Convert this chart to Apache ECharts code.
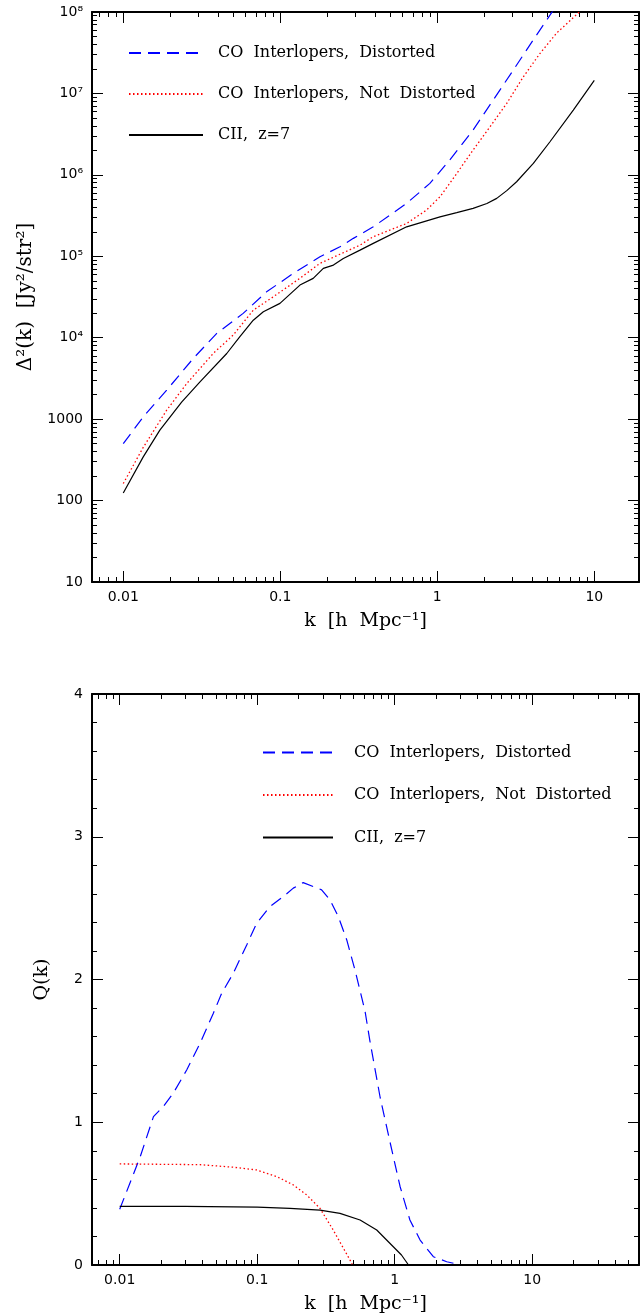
<!DOCTYPE html>
<html>
<head>
<meta charset="utf-8">
<script src="https://cdn.jsdelivr.net/npm/echarts@6/dist/echarts.min.js"></script>
<style>
html,body{margin:0;padding:0;background:#fff;}
#chart{width:640px;height:1316px;}
</style>
</head>
<body>
<div id="chart"></div>
<script>
// ---------- DATA ----------
const seriesNames = ['CO  Interlopers,  Distorted', 'CO  Interlopers,  Not  Distorted', 'CII,  z=7'];

// Top panel: Delta^2(k) [Jy^2/str^2]
const distK   = [0.01, 0.0134, 0.0189, 0.0279, 0.0394, 0.058, 0.0818, 0.121, 0.179, 0.24, 0.292, 0.391, 0.638, 0.897, 1.2, 1.69, 2.27, 3.05, 4.08, 5.23, 10];
const distD   = [500, 1067, 2270, 5560, 11300, 19900, 36600, 61600, 98700, 131000, 166000, 230000, 447000, 785000, 1.52e6, 3.55e6, 8.3e6, 1.94e7, 4.53e7, 9.2e7, 6e8];
const notK    = [0.01, 0.0134, 0.0189, 0.0254, 0.0374, 0.0502, 0.0673, 0.0902, 0.133, 0.179, 0.24, 0.322, 0.391, 0.638, 0.855, 1.04, 1.33, 1.69, 2.17, 2.77, 3.53, 4.51, 5.75, 8.03, 10];
const notD    = [162, 450, 1290, 2750, 6410, 10800, 21800, 31800, 53500, 81900, 106000, 137000, 174000, 253000, 370000, 538000, 1.04e6, 2.02e6, 3.9e6, 7.55e6, 1.6e7, 3.1e7, 5.5e7, 1.0e8, 1.55e8];
const ciiK    = [0.01, 0.0134, 0.0171, 0.0236, 0.0308, 0.0456, 0.0553, 0.0673, 0.078, 0.0995, 0.1334, 0.162, 0.188, 0.218, 0.252, 0.322, 0.391, 0.638, 1.04, 1.33, 1.69, 2.07, 2.39, 2.77, 3.2, 4.09, 5.22, 7.35, 10];
const ciiD    = [124, 344, 733, 1630, 2870, 6400, 10300, 16400, 20800, 26400, 44300, 53500, 71000, 78000, 94000, 119000, 144000, 230000, 305000, 343000, 387000, 445000, 514000, 640000, 823000, 1.38e6, 2.55e6, 6.25e6, 1.45e7];

// Bottom panel: Q(k)
const qDistK  = [0.01, 0.0141, 0.0176, 0.0207, 0.0245, 0.0307, 0.0384, 0.048, 0.0552, 0.067, 0.0839, 0.099, 0.124, 0.155, 0.183, 0.216, 0.294, 0.338, 0.389, 0.448, 0.514, 0.608, 0.66, 0.785, 0.925, 1.094, 1.29, 1.53, 1.91, 2.39, 2.82, 3.0];
const qDistQ  = [0.39, 0.759, 1.039, 1.109, 1.203, 1.366, 1.553, 1.764, 1.904, 2.044, 2.242, 2.394, 2.511, 2.581, 2.64, 2.679, 2.628, 2.558, 2.441, 2.277, 2.067, 1.78, 1.57, 1.17, 0.86, 0.55, 0.315, 0.175, 0.058, 0.023, 0.007, 0.0];
const qNotK   = [0.01, 0.0384, 0.067, 0.099, 0.139, 0.183, 0.229, 0.286, 0.357, 0.473, 0.49];
const qNotQ   = [0.708, 0.703, 0.685, 0.666, 0.619, 0.561, 0.491, 0.397, 0.245, 0.035, 0.005];
const qCiiK   = [0.01, 0.03, 0.1, 0.173, 0.286, 0.4, 0.56, 0.74, 0.977, 1.12, 1.26];
const qCiiQ   = [0.41, 0.41, 0.405, 0.397, 0.384, 0.362, 0.315, 0.245, 0.128, 0.07, 0.0];

// Tick values / labels
const kTicks = [0.01, 0.1, 1, 10];
const kTickLabels = ['0.01', '0.1', '1', '10'];
const dTicks = [10, 100, 1000, 1e4, 1e5, 1e6, 1e7, 1e8];
const dTickLabels = ['10', '100', '1000', '10⁴', '10⁵', '10⁶', '10⁷', '10⁸'];
const qTicks = [0, 1, 2, 3, 4];
const qTickLabels = ['0', '1', '2', '3', '4'];
const qMinorTicks = [0.2, 0.4, 0.6, 0.8, 1.2, 1.4, 1.6, 1.8, 2.2, 2.4, 2.6, 2.8, 3.2, 3.4, 3.6, 3.8];

// Axis ranges
const kMinTop = 0.006321, kMaxTop = 19.26;
const kMinBot = 0.006288, kMaxBot = 59.8;
const dMin = 10, dMax = 1e8;

// ---------- BUILD ----------
function logMinor(decFrom, decTo, lo, hi) {
  const out = [];
  for (let d = decFrom; d <= decTo; d++) {
    for (let m = 2; m <= 9; m++) {
      const v = +(m * Math.pow(10, d)).toPrecision(6);
      if (v > lo && v < hi) out.push(v);
    }
  }
  return out;
}
const kMinorTop = logMinor(-3, 1, kMinTop, kMaxTop);
const kMinorBot = logMinor(-3, 1, kMinBot, kMaxBot);
const dMinor = logMinor(1, 7, dMin, dMax);

const BLACK = '#000';
const tickFont = { fontFamily: 'DejaVu Sans', fontSize: 14, color: BLACK };
const xTitleFont = { fontFamily: 'DejaVu Serif', fontSize: 19, color: BLACK };
const yTitleFont = { fontFamily: 'DejaVu Serif', fontSize: 20, color: BLACK };

function axis(o) {
  const a = {
    type: o.type, gridIndex: o.grid, position: o.pos, min: o.min, max: o.max,
    axisLine: { show: !!o.line, onZero: false, lineStyle: { color: BLACK, width: 2 } },
    axisTick: { show: true, inside: true, length: o.minor ? 5 : 11, customValues: o.ticks,
      lineStyle: { color: BLACK, width: 1 } },
    axisLabel: { show: false },
    splitLine: { show: false },
    minorTick: { show: false }, minorSplitLine: { show: false },
    silent: true
  };
  if (o.labels) {
    a.axisLabel = Object.assign({ show: true, customValues: o.ticks, margin: o.margin,
      formatter: function (v) {
        for (let i = 0; i < o.ticks.length; i++) {
          if (Math.abs(v - o.ticks[i]) <= Math.abs(o.ticks[i]) * 1e-6 + 1e-12) return o.labels[i];
        }
        return '';
      } }, tickFont);
  }
  if (o.name) {
    a.name = o.name; a.nameLocation = 'middle'; a.nameGap = o.nameGap;
    a.nameTextStyle = o.nameFont;
  }
  return a;
}

const xAxes = [
  axis({ type: 'log', grid: 0, pos: 'bottom', min: kMinTop, max: kMaxTop, line: true, ticks: kTicks, labels: kTickLabels, margin: 8, name: 'k  [h  Mpc⁻¹]', nameGap: 30, nameFont: xTitleFont }),
  axis({ type: 'log', grid: 0, pos: 'bottom', min: kMinTop, max: kMaxTop, minor: true, ticks: kMinorTop }),
  axis({ type: 'log', grid: 0, pos: 'top', min: kMinTop, max: kMaxTop, line: true, ticks: kTicks }),
  axis({ type: 'log', grid: 0, pos: 'top', min: kMinTop, max: kMaxTop, minor: true, ticks: kMinorTop }),
  axis({ type: 'log', grid: 1, pos: 'bottom', min: kMinBot, max: kMaxBot, line: true, ticks: kTicks, labels: kTickLabels, margin: 8, name: 'k  [h  Mpc⁻¹]', nameGap: 30, nameFont: xTitleFont }),
  axis({ type: 'log', grid: 1, pos: 'bottom', min: kMinBot, max: kMaxBot, minor: true, ticks: kMinorBot }),
  axis({ type: 'log', grid: 1, pos: 'top', min: kMinBot, max: kMaxBot, line: true, ticks: kTicks }),
  axis({ type: 'log', grid: 1, pos: 'top', min: kMinBot, max: kMaxBot, minor: true, ticks: kMinorBot })
];
const yAxes = [
  axis({ type: 'log', grid: 0, pos: 'left', min: dMin, max: dMax, line: true, ticks: dTicks, labels: dTickLabels, margin: 9, name: 'Δ²(k)  [Jy²/str²]', nameGap: 56, nameFont: yTitleFont }),
  axis({ type: 'log', grid: 0, pos: 'left', min: dMin, max: dMax, minor: true, ticks: dMinor }),
  axis({ type: 'log', grid: 0, pos: 'right', min: dMin, max: dMax, line: true, ticks: dTicks }),
  axis({ type: 'log', grid: 0, pos: 'right', min: dMin, max: dMax, minor: true, ticks: dMinor }),
  axis({ type: 'value', grid: 1, pos: 'left', min: 0, max: 4, line: true, ticks: qTicks, labels: qTickLabels, margin: 9, name: 'Q(k)', nameGap: 40, nameFont: xTitleFont }),
  axis({ type: 'value', grid: 1, pos: 'left', min: 0, max: 4, minor: true, ticks: qMinorTicks }),
  axis({ type: 'value', grid: 1, pos: 'right', min: 0, max: 4, line: true, ticks: qTicks }),
  axis({ type: 'value', grid: 1, pos: 'right', min: 0, max: 4, minor: true, ticks: qMinorTicks })
];

function zip(a, b) { return a.map((v, i) => [v, b[i]]); }

const styles = [
  { color: '#0000ff', type: [12, 7], width: 1.2 },
  { color: '#ff0000', type: [1.5, 2.5], width: 1.3 },
  { color: '#000000', type: 'solid', width: 1.2 }
];

function line(name, data, xi, yi, st) {
  return {
    type: 'line', name: name, data: data, xAxisIndex: xi, yAxisIndex: yi,
    symbol: 'none', showSymbol: false, smooth: false, clip: true, silent: true,
    color: st.color,
    lineStyle: { color: st.color, type: st.type, width: st.width },
    emphasis: { disabled: true }
  };
}

const series = [
  line(seriesNames[0], zip(distK, distD), 0, 0, styles[0]),
  line(seriesNames[1], zip(notK, notD), 0, 0, styles[1]),
  line(seriesNames[2], zip(ciiK, ciiD), 0, 0, styles[2]),
  line(seriesNames[0], zip(qDistK, qDistQ), 4, 4, styles[0]),
  line(seriesNames[1], zip(qNotK, qNotQ), 4, 4, styles[1]),
  line(seriesNames[2], zip(qCiiK, qCiiQ), 4, 4, styles[2])
];

const legendText = { fontFamily: 'DejaVu Serif', fontSize: 16, color: BLACK };
const hiddenSymbol = { color: 'rgba(0,0,0,0)', borderColor: 'rgba(0,0,0,0)', borderWidth: 0, opacity: 0 };

const option = {
  animation: false,
  backgroundColor: '#fff',
  grid: [
    { left: 92, top: 12, width: 547, height: 570, containLabel: false },
    { left: 92, top: 694, width: 547, height: 571, containLabel: false }
  ],
  xAxis: xAxes,
  yAxis: yAxes,
  legend: [
    { orient: 'vertical', left: 123, top: 40, itemWidth: 74, itemHeight: 20, itemGap: 25,
      selectedMode: false, data: seriesNames, itemStyle: hiddenSymbol,
      textStyle: Object.assign({ padding: [0, 0, 0, 10] }, legendText) },
    { orient: 'vertical', left: 257, top: 739.5, itemWidth: 70, itemHeight: 20, itemGap: 26.5,
      selectedMode: false, data: seriesNames, itemStyle: hiddenSymbol,
      textStyle: Object.assign({ padding: [0, 0, 0, 16] }, legendText) }
  ],
  series: series
};

const chart = echarts.init(document.getElementById('chart'), null, { renderer: 'canvas' });
chart.setOption(option);
</script>
</body>
</html>
